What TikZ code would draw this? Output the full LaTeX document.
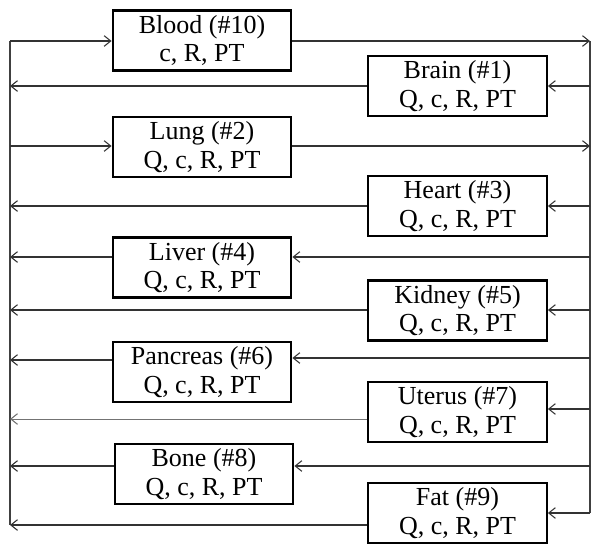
\documentclass[tikz,border=0pt]{standalone}
\usepackage{fontspec}
\setmainfont{Liberation Serif}
\usetikzlibrary{arrows.meta}
\begin{document}
\begin{tikzpicture}[x=0.75pt,y=-0.75pt,
  organ/.style={draw=black,line width=1.6pt,fill=white,minimum width=134pt,minimum height=45pt,
    align=center,inner sep=0pt,font=\fontsize{19.5}{21.5}\selectfont},
  flow/.style={draw=black!80,line width=0.8pt,-{Straight Barb[length=5pt,width=8pt,line width=0.8pt]}},
  thick flow/.style={flow,line width=1.3pt},
  bus/.style={draw=black!75,line width=1.1pt}]
\useasboundingbox (0,0) rectangle (601,554);
% buses
\coordinate (LT) at (10,41);
\coordinate (LB) at (10,525);
\coordinate (RT) at (590,41);
\coordinate (RB) at (590,513);
\draw[bus] (LT) -- (LB);
\draw[bus] (RT) -- (RB);
% boxes
\node[organ] (blood) at (202,40.5) {Blood (\#10)\\c, R, PT};
\node[organ] (brain) at (457.5,86) {Brain (\#1)\\Q, c, R, PT};
\node[organ] (lung) at (202,147) {Lung (\#2)\\Q, c, R, PT};
\node[organ] (heart) at (457.5,206) {Heart (\#3)\\Q, c, R, PT};
\node[organ] (liver) at (202,267.5) {Liver (\#4)\\Q, c, R, PT};
\node[organ] (kidney) at (457.5,310.5) {Kidney (\#5)\\Q, c, R, PT};
\node[organ] (pancreas) at (202,372) {Pancreas (\#6)\\Q, c, R, PT};
\node[organ] (uterus) at (457.5,412) {Uterus (\#7)\\Q, c, R, PT};
\node[organ] (bone) at (204,474) {Bone (\#8)\\Q, c, R, PT};
\node[organ] (fat) at (457.5,513) {Fat (\#9)\\Q, c, R, PT};
% bus tap coordinates
\coordinate (l1) at (10,41);   \coordinate (r1) at (590,41);
\coordinate (l2) at (10,86);   \coordinate (r2) at (590,86);
\coordinate (l3) at (10,146);  \coordinate (r3) at (590,146);
\coordinate (l4) at (10,206);  \coordinate (r4) at (590,206);
\coordinate (l5) at (10,257);  \coordinate (r5) at (590,257);
\coordinate (l6) at (10,310);  \coordinate (r6) at (590,310);
\coordinate (l7) at (10,360);  \coordinate (r7) at (590,358);
\coordinate (l8) at (10,419);  \coordinate (r8) at (590,409);
\coordinate (l9) at (10,466);  \coordinate (r9) at (590,466);
\coordinate (l10) at (10,525); \coordinate (r10) at (590,513);
% blood and lung: left bus in, right bus out
\draw[flow] (l1) -- (blood.west |- l1);
\draw[flow] (blood.east |- r1) -- (r1);
\draw[flow] (l3) -- (lung.west |- l3);
\draw[flow] (lung.east |- r3) -- (r3);
% organs: right bus in, left bus out
\draw[flow] (r2) -- (brain.east |- r2);
\draw[flow] (brain.west |- l2) -- (l2);
\draw[flow] (r4) -- (heart.east |- r4);
\draw[flow] (heart.west |- l4) -- (l4);
\draw[thick flow] (r5) -- (liver.east |- r5);
\draw[flow] (liver.west |- l5) -- (l5);
\draw[flow] (r6) -- (kidney.east |- r6);
\draw[flow] (kidney.west |- l6) -- (l6);
\draw[thick flow] (r7) -- (pancreas.east |- r7);
\draw[flow] (pancreas.west |- l7) -- (l7);
\draw[flow] (r8) -- (uterus.east |- r8);
\draw[flow,draw=black!55,line width=0.6pt] (uterus.west |- l8) -- (l8);
\draw[thick flow] (r9) -- (bone.east |- r9);
\draw[flow] (bone.west |- l9) -- (l9);
\draw[flow] (r10) -- (fat.east |- r10);
\draw[flow] (fat.west |- l10) -- (l10);
\end{tikzpicture}
\end{document}
